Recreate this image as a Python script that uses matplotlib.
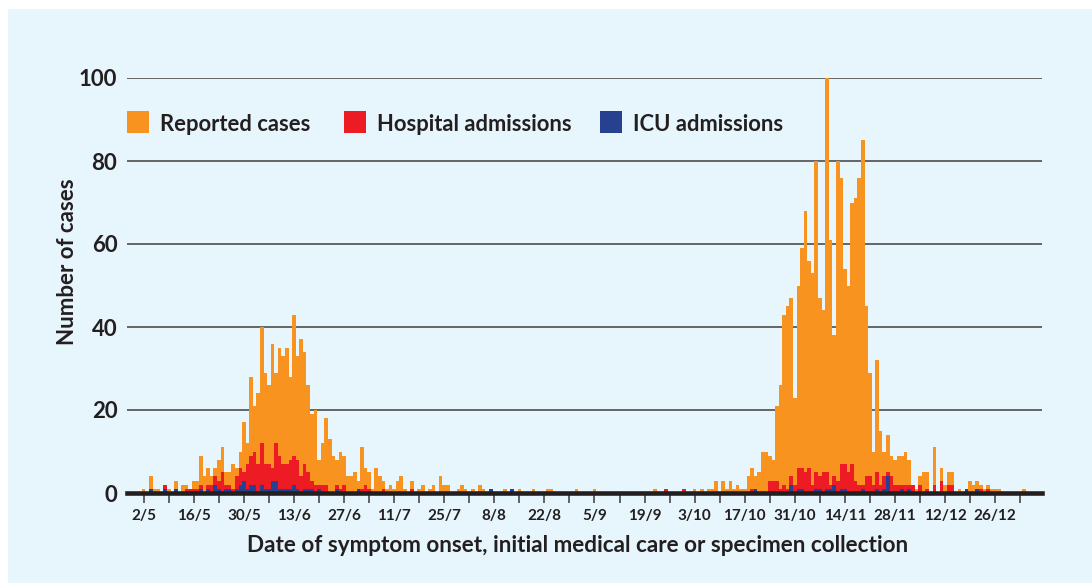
import numpy as np
import pandas as pd
import matplotlib
matplotlib.use("Agg")
import matplotlib.pyplot as plt
from matplotlib.patches import Rectangle

plt.rcParams['font.family'] = ['Lato', 'DejaVu Sans']

# daily counts from 2 May, one row per week
START = "2021-05-02"
reported = [
    1, 0, 4, 1, 1, 0, 2,
    1, 0, 3, 0, 2, 2, 1,
    3, 3, 9, 4, 6, 4, 6,
    8, 11, 5, 5, 7, 6, 10,
    17, 12, 28, 21, 24, 40, 29,
    26, 36, 29, 35, 33, 35, 28,
    43, 33, 37, 34, 26, 19, 20,
    8, 12, 18, 13, 9, 8, 10,
    9, 4, 4, 5, 3, 11, 6,
    5, 1, 6, 4, 3, 1, 2,
    1, 3, 4, 1, 0, 3, 0,
    1, 2, 0, 1, 2, 0, 4,
    2, 2, 0, 0, 1, 2, 1,
    0, 1, 0, 2, 1, 0, 1,
    0, 0, 0, 1, 0, 1, 0,
    1, 0, 0, 0, 1, 0, 0,
    0, 1, 1, 0, 0, 0, 0,
    0, 0, 1, 0, 0, 0, 0,
    1, 0, 0, 0, 0, 0, 0,
    0, 0, 0, 0, 0, 0, 0,
    0, 0, 0, 1, 0, 0, 1,
    0, 0, 0, 0, 1, 0, 0,
    1, 0, 1, 0, 1, 1, 3,
    0, 3, 1, 3, 1, 2, 1,
    1, 4, 6, 4, 5, 10, 10,
    9, 8, 21, 26, 43, 45, 47,
    23, 50, 59, 68, 56, 53, 80,
    47, 44, 100, 61, 38, 80, 76,
    54, 50, 70, 71, 76, 85, 45,
    29, 10, 32, 15, 10, 14, 9,
    8, 9, 9, 10, 8, 2, 1,
    4, 5, 5, 0, 11, 0, 6,
    2, 5, 5, 0, 1, 0, 1,
    3, 2, 3, 2, 1, 2, 1,
    1, 1, 0, 0, 0, 0, 0,
    0, 1,
]
hospital = [
    0, 0, 1, 0, 0, 0, 2,
    0, 0, 1, 0, 0, 1, 1,
    1, 1, 2, 0, 2, 2, 4,
    3, 5, 2, 2, 1, 4, 6,
    5, 7, 9, 10, 7, 12, 7,
    7, 6, 12, 9, 7, 7, 8,
    9, 8, 4, 7, 5, 3, 2,
    2, 2, 2, 0, 0, 2, 1,
    2, 0, 0, 0, 1, 1, 2,
    1, 0, 0, 0, 1, 0, 0,
    0, 0, 0, 0, 0, 1, 0,
    0, 0, 0, 0, 0, 0, 0,
    0, 0, 0, 0, 0, 0, 0,
    0, 0, 0, 0, 0, 0, 1,
    0, 0, 0, 0, 0, 1, 0,
    0, 0, 0, 0, 0, 0, 0,
    0, 0, 0, 0, 0, 0, 0,
    0, 0, 0, 0, 0, 0, 0,
    0, 0, 0, 0, 0, 0, 0,
    0, 0, 0, 0, 0, 0, 0,
    0, 0, 0, 0, 0, 0, 1,
    0, 0, 0, 0, 1, 0, 0,
    0, 0, 0, 0, 0, 0, 0,
    0, 0, 0, 0, 0, 0, 0,
    0, 0, 1, 1, 0, 0, 0,
    3, 3, 3, 1, 2, 1, 4,
    2, 6, 6, 5, 6, 2, 5,
    4, 5, 5, 2, 4, 3, 7,
    7, 5, 7, 3, 2, 2, 4,
    4, 2, 5, 2, 4, 5, 4,
    2, 2, 2, 2, 2, 2, 0,
    2, 0, 1, 0, 2, 0, 3,
    0, 2, 2, 0, 0, 0, 1,
    0, 0, 1, 1, 0, 1, 0,
    0, 0, 0, 0, 0, 0, 0,
    0, 0,
]
icu = [
    0, 0, 1, 0, 0, 0, 1,
    0, 0, 1, 0, 0, 0, 0,
    0, 0, 1, 0, 1, 0, 2,
    1, 0, 1, 1, 0, 1, 2,
    3, 1, 2, 2, 0, 2, 1,
    1, 3, 3, 1, 1, 1, 1,
    2, 1, 0, 1, 1, 1, 0,
    1, 0, 0, 0, 0, 1, 0,
    0, 0, 0, 0, 1, 0, 0,
    0, 0, 0, 0, 0, 0, 0,
    0, 0, 0, 0, 0, 0, 0,
    0, 0, 0, 0, 0, 0, 0,
    0, 0, 0, 0, 0, 0, 0,
    0, 0, 0, 0, 0, 0, 1,
    0, 0, 0, 0, 0, 1, 0,
    0, 0, 0, 0, 0, 0, 0,
    0, 0, 0, 0, 0, 0, 0,
    0, 0, 0, 0, 0, 0, 0,
    0, 0, 0, 0, 0, 0, 0,
    0, 0, 0, 0, 0, 0, 0,
    0, 0, 0, 0, 0, 0, 0,
    0, 0, 0, 0, 0, 0, 0,
    0, 0, 0, 0, 0, 0, 0,
    0, 0, 0, 0, 0, 0, 0,
    0, 0, 0, 1, 0, 0, 0,
    0, 0, 0, 0, 0, 0, 2,
    0, 1, 1, 0, 0, 0, 1,
    1, 0, 1, 1, 2, 0, 1,
    1, 0, 0, 0, 0, 1, 0,
    0, 0, 1, 0, 1, 4, 0,
    0, 0, 1, 0, 1, 0, 0,
    0, 0, 0, 0, 0, 0, 0,
    0, 0, 0, 0, 0, 0, 1,
    0, 0, 1, 0, 0, 0, 0,
    0, 0, 0, 0, 0, 0, 0,
    0, 0,
]
series_names = ['Reported cases', 'Hospital admissions', 'ICU admissions']

ORANGE = '#F7931E'
RED = '#ED1C24'
BLUE = '#27408F'
BG = '#E7F5FC'
DARK = '#231F20'

days = np.arange(len(reported))
dates = pd.date_range(START, periods=260, freq='D')
tick_days = np.arange(0, 246, 7)
tick_labels = [f'{dates[d].day}/{dates[d].month}' if d % 14 == 0 and d < 245 else '' for d in tick_days]

fig = plt.figure(figsize=(10.92, 5.83), dpi=100)
fig.patch.set_facecolor('white')
fig.add_artist(Rectangle((8 / 1092, 0), 1, 1 - 9 / 583, transform=fig.transFigure,
                         facecolor=BG, edgecolor='none', zorder=-10))

ax = fig.add_axes([127 / 1092, 90 / 583, 915 / 1092, 415 / 583])
ax.set_facecolor('none')

for y in range(20, 101, 20):
    ax.axhline(y, color='#4D4D4D', lw=1.2, zorder=0.5)

ax.bar(days, reported, width=1.0, color=ORANGE, lw=0, zorder=2)
ax.bar(days, hospital, width=1.0, color=RED, lw=0, zorder=3)
ax.bar(days, icu, width=1.0, color=BLUE, lw=0, zorder=4)
ax.axhline(0, color=DARK, lw=3.3, zorder=6, clip_on=False)

ax.set_xlim(-4.67, 251.1)
ax.set_ylim(0, 100)
for s in ax.spines.values():
    s.set_visible(False)

ax.set_xticks(tick_days)
ax.set_xticklabels(tick_labels)
ax.tick_params(axis='x', length=7.5, width=1.3, color='#555555', pad=4,
               labelsize=11, labelcolor=DARK)
ax.set_yticks(range(0, 101, 20))
ax.tick_params(axis='y', length=0, pad=7, labelsize=16, labelcolor=DARK)
for lab in ax.get_xticklabels() + ax.get_yticklabels():
    lab.set_fontweight('bold')

fig.text(67.5 / 1092, 1 - 262 / 583, 'Number of cases', rotation=90, ha='center', va='center',
         fontsize=16, fontweight='bold', color=DARK)
fig.text(578 / 1092, 1 - 551.7 / 583, 'Date of symptom onset, initial medical care or specimen collection',
         ha='center', va='baseline', fontsize=16.2, fontweight='bold', color=DARK)

# legend drawn by hand
for name, color, x0, xt in zip(series_names, [ORANGE, RED, BLUE], [127, 344, 600], [160, 377, 633]):
    fig.add_artist(Rectangle((x0 / 1092, 1 - 133 / 583), 22 / 1092, 22 / 583,
                             transform=fig.transFigure, facecolor=color, edgecolor='none'))
    fig.text(xt / 1092, 1 - 130.7 / 583, name, ha='left', va='baseline',
             fontsize=15.8, fontweight='bold', color=DARK)

fig.savefig('out.png', dpi=100)
